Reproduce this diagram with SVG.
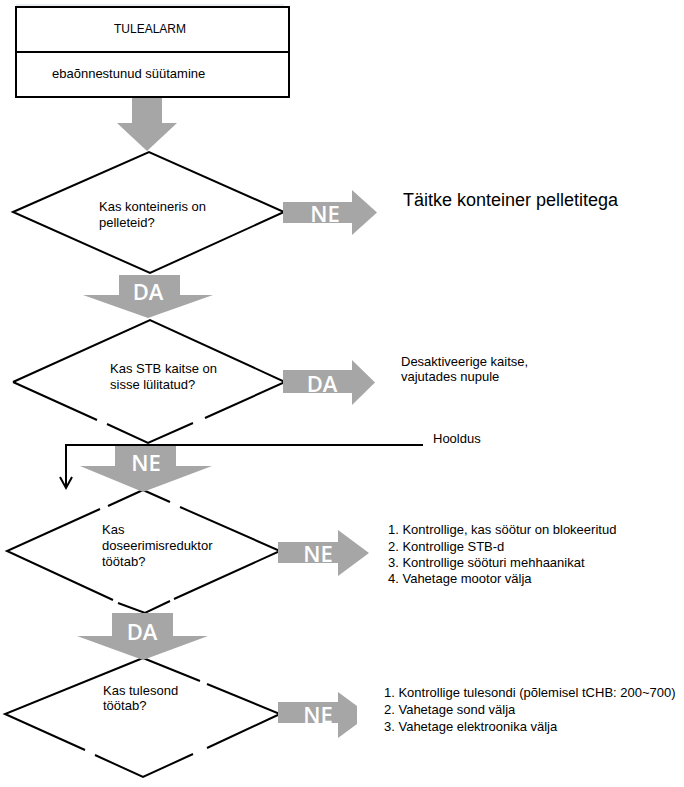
<svg xmlns="http://www.w3.org/2000/svg" width="684" height="787" viewBox="0 0 684 787">
<style>
.t{font-family:"Liberation Sans",Arial,sans-serif;font-size:13px;fill:#000}
.big{font-family:"Liberation Sans",Arial,sans-serif;font-size:18px;fill:#000}
.lbl{font-family:"Open Sans","Noto Sans",sans-serif;font-size:22px;font-weight:600;fill:#fff;text-anchor:middle}
.edge{fill:none;stroke:#000;stroke-width:2}
.blk{fill:#a6a6a6;stroke:none}
.ln{fill:none;stroke:#000;stroke-width:2}
</style>
<rect width="684" height="787" fill="#fff"/>
<line x1="16" y1="5" x2="284" y2="5" stroke="#d6dce6" stroke-width="1"/>
<g id="start">
<rect x="16" y="7" width="273" height="90" class="edge"/>
<line x1="16" y1="52" x2="289" y2="52" class="edge"/>
<text x="150" y="33" class="t" text-anchor="middle" style="font-size:12px">TULEALARM</text>
<text x="52" y="78" class="t">ebaõnnestunud süütamine</text>
</g>
<g id="q1">
<path d="M13,212 L149,152 L284,212 L150,273 Z" class="edge"/>
<text x="99" y="211" class="t">Kas konteineris on</text>
<text x="99" y="227" class="t">pelleteid?</text>
</g>
<g id="q2">
<path d="M13,382 L150,320 L285,382 L205,418 M193,423 L148,443 L107,424 M97,420 L13,382" class="edge"/>
<text x="110" y="373" class="t">Kas STB kaitse on</text>
<text x="110" y="389" class="t">sisse lülitatud?</text>
</g>
<g id="q3">
<path d="M143,490 L108,506 M100,509 L7,551 L113,600 M118,603 L145,613 L170,601 M174,599 L280,551 L180,507 M170,502 L143,490" class="edge"/>
<text x="102" y="534" class="t">Kas</text>
<text x="102" y="550" class="t">doseerimisreduktor</text>
<text x="102" y="566" class="t">töötab?</text>
</g>
<g id="q4">
<path d="M143,658 L200,681 M207,684 L280,714 L207,748 M193,754 L143,777 L95,755 M85,750 L5,714 L143,658" class="edge"/>
<text x="103" y="695" class="t">Kas tulesond</text>
<text x="103" y="710" class="t">töötab?</text>
</g>
<g id="r1">
<text x="403" y="206" class="big">Täitke konteiner pelletitega</text>
</g>
<g id="r2">
<text x="401" y="366" class="t">Desaktiveerige kaitse,</text>
<text x="401" y="381" class="t">vajutades nupule</text>
</g>
<g id="r-hooldus">
<text x="433" y="443" class="t">Hooldus</text>
</g>
<g id="r3">
<text x="388" y="534" class="t">1. Kontrollige, kas söötur on blokeeritud</text>
<text x="388" y="551" class="t">2. Kontrollige STB-d</text>
<text x="388" y="567" class="t">3. Kontrollige sööturi mehhaanikat</text>
<text x="388" y="583" class="t">4. Vahetage mootor välja</text>
</g>
<g id="r4">
<text x="384" y="697" class="t">1. Kontrollige tulesondi (põlemisel tCHB: 200~700)</text>
<text x="384" y="714" class="t">2. Vahetage sond välja</text>
<text x="384" y="731" class="t">3. Vahetage elektroonika välja</text>
</g>
<g id="connectors">
<polygon class="blk" points="132,98 162,98 162,123 177,123 147,151 117,123 132,123"/>
<polygon class="blk" points="283,202 352,202 352,190 377,212.5 352,235 352,223 283,223"/>
<text x="325" y="222" class="lbl">NE</text>
<polygon class="blk" points="119,275 180,275 180,295 213,295 148,318 83,295 119,295"/>
<text x="148" y="300" class="lbl">DA</text>
<polygon class="blk" points="283,370 352,370 352,360 375,382.5 352,405 352,393 283,393"/>
<text x="322" y="392" class="lbl">DA</text>
<polygon class="blk" points="115,446 176,446 176,466 212,466 143,492 80,466 115,466"/>
<text x="146" y="471" class="lbl">NE</text>
<polygon class="blk" points="278,542 338,542 338,530 369,553 338,576 338,563 278,563"/>
<text x="318" y="562" class="lbl">NE</text>
<polygon class="blk" points="112,613 173,613 173,636 208,636 143,660 77,636 112,636"/>
<text x="142" y="640" class="lbl">DA</text>
<polygon class="blk" points="278,702 338,702 338,692 357,706 357,724 338,738 338,723 278,723"/>
<text x="318" y="723" class="lbl">NE</text>
<path d="M423,445 H66 V487" class="ln"/>
<path d="M60,477 L66,488 L72,477" class="ln"/>
</g>
</svg>
